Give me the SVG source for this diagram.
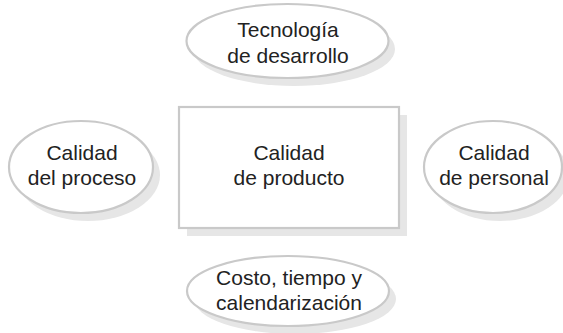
<svg xmlns="http://www.w3.org/2000/svg" width="563" height="333" viewBox="0 0 563 333">
<style>
.bg{fill:#ffffff}
.shadow{fill:#e6e6e6;stroke:none}
.node{fill:#ffffff;stroke:#c9c9c9;stroke-width:2.2}
.lbl{font-family:"Liberation Sans",Arial,sans-serif;font-size:21px;fill:#222222;text-anchor:middle}
</style>
<rect class="bg" x="0" y="0" width="563" height="333"/>
<g id="connectors"></g>
<g id="tecnologia">
<ellipse class="shadow" cx="294" cy="49" rx="101" ry="37"/>
<ellipse class="node" cx="287.5" cy="41" rx="101" ry="37"/>
<text class="lbl" x="288" y="37">Tecnología</text>
<text class="lbl" x="288" y="63">de desarrollo</text>
</g>
<g id="proceso">
<ellipse class="shadow" cx="88" cy="175" rx="72" ry="46"/>
<ellipse class="node" cx="81" cy="167" rx="72" ry="46"/>
<text class="lbl" x="82" y="160">Calidad</text>
<text class="lbl" x="82" y="185">del proceso</text>
</g>
<g id="producto">
<rect class="shadow" x="187" y="115" width="220" height="121"/>
<rect class="node" x="179" y="107" width="220" height="121"/>
<text class="lbl" x="289" y="160">Calidad</text>
<text class="lbl" x="289" y="185">de producto</text>
</g>
<g id="personal">
<ellipse class="shadow" cx="500" cy="175" rx="69" ry="46"/>
<ellipse class="node" cx="493" cy="167" rx="69" ry="46"/>
<text class="lbl" x="494" y="160">Calidad</text>
<text class="lbl" x="494" y="185">de personal</text>
</g>
<g id="costo">
<ellipse class="shadow" cx="295" cy="299" rx="101" ry="35"/>
<ellipse class="node" cx="288" cy="291" rx="101" ry="35"/>
<text class="lbl" x="289" y="285">Costo, tiempo y</text>
<text class="lbl" x="289" y="310">calendarización</text>
</g>
</svg>
